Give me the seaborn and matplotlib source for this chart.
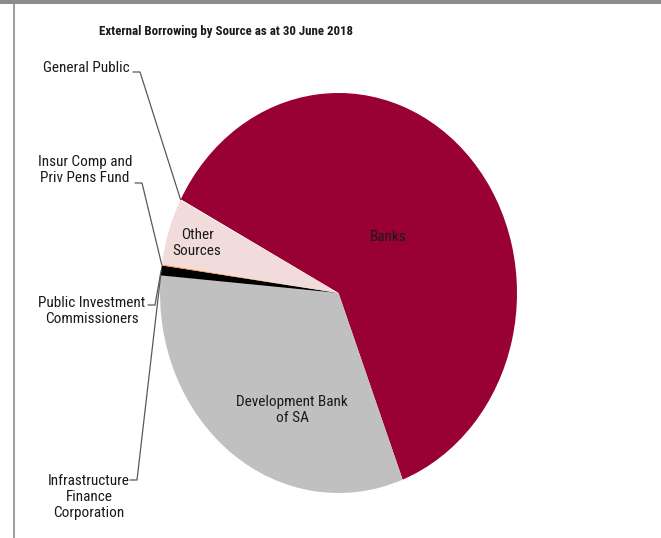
import numpy as np
import matplotlib
matplotlib.use("Agg")
import matplotlib.pyplot as plt
from matplotlib.lines import Line2D
from matplotlib.patches import Rectangle
import seaborn as sns

# data, clockwise from the Banks slice
sources = ["Banks", "Development Bank of SA", "Infrastructure Finance Corporation",
           "Public Investment Commissioners", "Insur Comp and Priv Pens Fund",
           "Other Sources", "General Public"]
shares = [61.4, 32.2, 0.05, 0.8, 0.1, 5.4, 0.05]
colours = ["#990033", "#C0C0C0", "#A6A6A6", "#000000", "#F79646", "#F2DCDB", "#FFFFFF"]

sns.set_theme(style="white")
plt.rcParams["font.family"] = ["Roboto Condensed", "Liberation Sans", "DejaVu Sans"]
fs = 11
txt = "#1a1a1a"

W, H = 661, 538
fig = plt.figure(figsize=(W / 100, H / 100), dpi=100)

def fp(x, y):
    # pixel (top-left origin) -> figure fraction
    return x / W, 1 - y / H

# pie placed as an ellipse, like the stretched original
ax = fig.add_axes([160 / W, (H - 493) / H, 357 / W, 400 / H])
wedges, _ = ax.pie(shares, colors=colours, startangle=152.1, counterclock=False,
                   wedgeprops=dict(linewidth=0))
ax.set_aspect("auto")
ax.set_xlim(-1, 1)
ax.set_ylim(-1, 1)
ax.axis("off")

# frame pieces of the screenshot
fig.add_artist(Rectangle((0, 1 - 4 / H), 1, 4 / H, transform=fig.transFigure,
                         color="#8C8C8C", lw=0))
fig.add_artist(Line2D([14 / W, 14 / W], [0, 1 - 4 / H], transform=fig.transFigure,
                      color="#8C8C8C", lw=1.2))

fig.text(*fp(226, 32), "External Borrowing by Source as at 30 June 2018",
         ha="center", va="center", fontsize=9.3, fontweight="bold", color=txt)

# inside labels
fig.text(*fp(388, 237), "Banks", ha="center", va="center", fontsize=fs, color=txt)
fig.text(*fp(292, 410), "Development Bank\nof SA", ha="center", va="center",
         fontsize=fs, color=txt, linespacing=1.15)
fig.text(*fp(197, 243), "Other\nSources", ha="center", va="center",
         fontsize=fs, color=txt, linespacing=1.15)

# outside labels with leader lines: (index, text, text centre, stub start)
outside = [
    (6, "General Public", (86, 68), (133, 72)),
    (4, "Insur Comp and\nPriv Pens Fund", (85, 170), (135, 183)),
    (3, "Public Investment\nCommissioners", (92, 311), (148, 305)),
    (2, "Infrastructure\nFinance\nCorporation", (89, 497), (130, 480)),
]
fig.canvas.draw()
inv = fig.transFigure.inverted()
for i, label, (tx, ty), (sx, sy) in outside:
    w = wedges[i]
    th = np.deg2rad((w.theta1 + w.theta2) / 2)
    end = inv.transform(ax.transData.transform((np.cos(th), np.sin(th))))
    fig.text(*fp(tx, ty), label, ha="center", va="center", fontsize=fs,
             color=txt, linespacing=1.15)
    a = fp(sx, sy)
    b = fp(sx + 7, sy)
    fig.add_artist(Line2D([a[0], b[0], end[0]], [a[1], b[1], end[1]],
                          transform=fig.transFigure, color="#595959", lw=0.9))

fig.savefig("out.png", dpi=100)
